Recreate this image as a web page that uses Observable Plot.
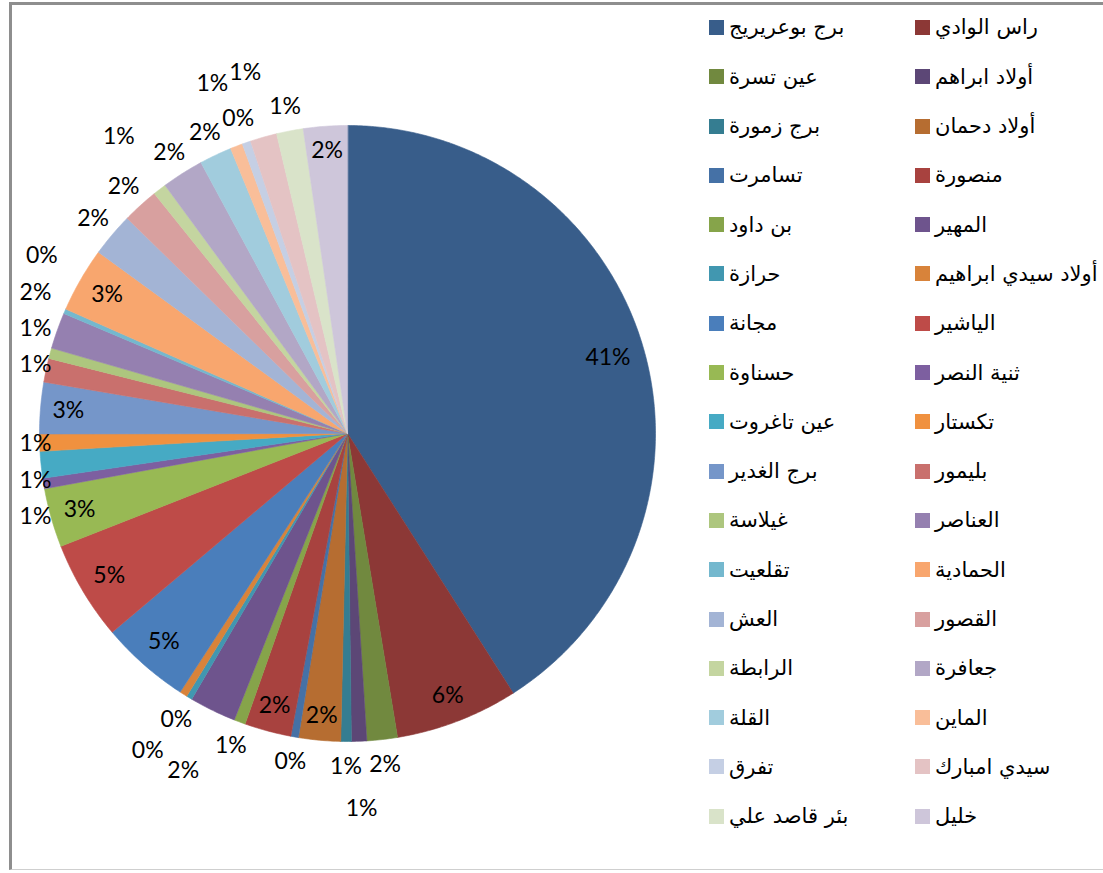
<!DOCTYPE html>
<html>
<head>
<meta charset="utf-8">
<script src="https://cdn.jsdelivr.net/npm/d3@7"></script>
<script src="https://cdn.jsdelivr.net/npm/@observablehq/plot@0.6"></script>
<style>
  html, body { margin: 0; padding: 0; background: #fff; }
  #wrap { position: relative; width: 1103px; height: 873px; overflow: hidden; background: #fff; }
  #frame { position: absolute; left: 9px; top: 2px; width: 1200px; height: 868px;
           border-left: 3px solid #8e8e8e; border-top: 3px solid #8e8e8e; border-bottom: 1px solid #cfcfcf; box-sizing: border-box; }
  #chart { position: absolute; left: 0; top: 0; }
  #legend { position: absolute; left: 709px; top: 2.85px; display: grid;
            grid-template-columns: 206px 188px; grid-auto-rows: 49.31px; }
  .item { display: flex; align-items: center; height: 49.31px; }
  .sw { width: 15px; height: 15px; flex: none; margin-right: 5px; }
  .lb { font-family: "DejaVu Sans", sans-serif; font-size: 21px; color: #000; direction: rtl; unicode-bidi: isolate; white-space: nowrap; }
</style>
</head>
<body>
<div id="wrap">
  <div id="frame"></div>
  <div id="chart"></div>
  <div id="legend"></div>
</div>
<script>
// ---- data (share of total, %) ----
const names = [
  "برج بوعريريج", "راس الوادي", "عين تسرة", "أولاد ابراهم", "برج زمورة", "أولاد دحمان",
  "تسامرت", "منصورة", "بن داود", "المهير", "حرازة", "أولاد سيدي ابراهيم",
  "مجانة", "الياشير", "حسناوة", "ثنية النصر", "عين تاغروت", "تكستار",
  "برج الغدير", "بليمور", "غيلاسة", "العناصر", "تقلعيت", "الحمادية",
  "العش", "القصور", "الرابطة", "جعافرة", "القلة", "الماين",
  "تفرق", "سيدي امبارك", "بئر قاصد علي", "خليل"
];
const values = [
  41.0, 6.45, 1.6, 0.8, 0.55, 2.2,
  0.4, 2.45, 0.6, 2.45, 0.3, 0.4,
  4.7, 5.2, 3.1, 0.55, 1.4, 0.9,
  2.7, 1.25, 0.55, 1.9, 0.25, 3.4,
  2.3, 1.9, 0.7, 2.2, 1.7, 0.65,
  0.45, 1.4, 1.4, 2.3
];
const colors = [
  "#385D8A", "#8C3836", "#71893F", "#5C4776", "#357D91", "#B66D31",
  "#4571A6", "#A8423F", "#86A44A", "#6E548D", "#4197B0", "#D8833A",
  "#4A7EBB", "#BE4B48", "#98B954", "#7D5FA0", "#46AAC4", "#F0913F",
  "#7596C9", "#C9706D", "#ADC67E", "#9580B0", "#74B8CE", "#F8A66E",
  "#A3B4D5", "#D8A09F", "#C4D5A0", "#B2A7C6", "#A1CCDD", "#F9BE99",
  "#C5CFE4", "#E4C3C4", "#D9E3C9", "#CEC6DA"
];

// ---- layout ----
const W = 700, H = 873, cx = 347, cy = 433, R = 308;
const total = d3.sum(values);
const arcs = d3.pie().sort(null).value(d => d)(values);

// slice outlines (data units = px, y up, origin at pie centre)
const slicePts = [];
arcs.forEach((p, i) => {
  slicePts.push({name: names[i], x: 0, y: 0});
  const n = Math.max(2, Math.ceil((p.endAngle - p.startAngle) / (Math.PI / 360)));
  for (let k = 0; k <= n; k++) {
    const a = p.startAngle + (p.endAngle - p.startAngle) * k / n;
    slicePts.push({name: names[i], x: R * Math.sin(a), y: R * Math.cos(a)});
  }
});

// data labels: inside-end when they fit, otherwise outside-end with collision avoidance
const labelData = [];
const outside = [];
arcs.forEach((p, i) => {
  const text = Math.round(values[i] / total * 100) + "%";
  const mid = (p.startAngle + p.endAngle) / 2;
  const s = Math.sin(mid), c = Math.cos(mid);
  const w = 15 * text.length, h = 22;
  const tang = w * Math.abs(c) + h * Math.abs(s);
  const rad = w * Math.abs(s) + h * Math.abs(c);
  const rIn = R - 12 - rad / 2;
  const avail = rIn * (p.endAngle - p.startAngle);
  if (avail >= 1.21 * tang) {
    labelData.push({text, x: rIn * s, y: rIn * c});
    return;
  }
  const r0 = R + 25, xmin = 20 + w / 2;
  let px = cx + r0 * s, py = cy - r0 * c, clamped = false;
  if (px < xmin + 12) { px = Math.max(px, xmin); clamped = true; }
  outside.push({i, text, s, c, bw: w + 2, px, py, clamped});
});
const placed = [];
const hit = (o, gapY) => placed.some(q => Math.abs(q.px - o.px) < (q.bw + o.bw) / 2 && Math.abs(q.py - o.py) < gapY);
// free labels: clockwise, pushed radially outward in steps
outside.filter(o => !o.clamped).forEach(o => {
  let r = R + 25, k = 0;
  while (hit(o, 30) && k < 20) {
    r += 42; k++;
    o.px = cx + r * o.s; o.py = cy - r * o.c;
  }
  placed.push(o);
});
// labels held at the chart edge: stacked vertically away from the centre line
outside.filter(o => o.clamped).sort((a, b) => Math.abs(a.py - cy) - Math.abs(b.py - cy)).forEach(o => {
  const dir = Math.sign(o.py - cy) || 1;
  let k = 0;
  while (hit(o, 36) && k < 400) { o.py += dir; k++; }
  placed.push(o);
});
placed.forEach(o => labelData.push({text: o.text, x: o.px - cx, y: cy - o.py}));

const chart = Plot.plot({
  width: W, height: H,
  margin: 0,
  x: {domain: [-cx, W - cx], range: [0, W], axis: null},
  y: {domain: [-(H - cy), cy], range: [H, 0], axis: null},
  color: {domain: names, range: colors},
  style: {background: "transparent", overflow: "visible"},
  marks: [
    Plot.line(slicePts, {x: "x", y: "y", z: "name", fill: "name", stroke: "name", strokeWidth: 0.6, curve: "linear-closed"}),
    Plot.text(labelData, {x: "x", y: "y", text: "text", fontSize: 23, fontFamily: "Lato, 'Open Sans', sans-serif", fill: "#000"})
  ]
});
document.getElementById("chart").appendChild(chart);

// legend (row-major, two columns)
const legend = document.getElementById("legend");
names.forEach((n, i) => {
  const item = document.createElement("div");
  item.className = "item";
  const sw = document.createElement("span");
  sw.className = "sw";
  sw.style.background = colors[i];
  const lb = document.createElement("span");
  lb.className = "lb";
  lb.textContent = n;
  item.appendChild(sw);
  item.appendChild(lb);
  legend.appendChild(item);
});
</script>
</body>
</html>
